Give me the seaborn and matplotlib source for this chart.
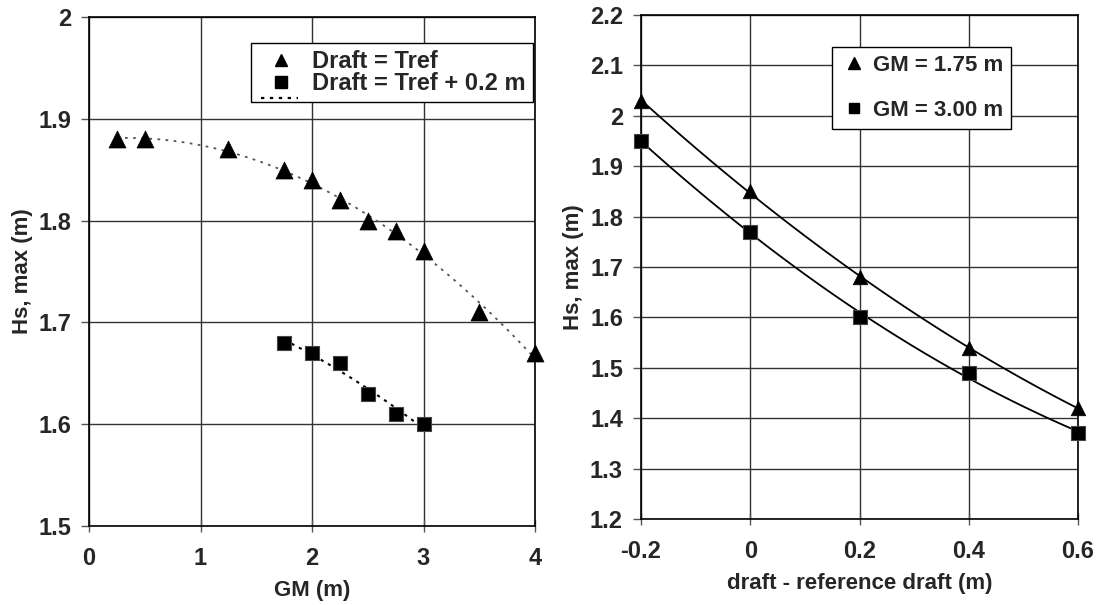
import numpy as np
import pandas as pd
import matplotlib
matplotlib.use("Agg")
import matplotlib.pyplot as plt
import seaborn as sns
from matplotlib.lines import Line2D

# ---------------- data ----------------
gm_tref = [0.25, 0.5, 1.25, 1.75, 2.0, 2.25, 2.5, 2.75, 3.0, 3.5, 4.0]
hs_tref = [1.88, 1.88, 1.87, 1.85, 1.84, 1.82, 1.80, 1.79, 1.77, 1.71, 1.67]
gm_tref02 = [1.75, 2.0, 2.25, 2.5, 2.75, 3.0]
hs_tref02 = [1.68, 1.67, 1.66, 1.63, 1.61, 1.60]

draft = [-0.2, 0.0, 0.2, 0.4, 0.6]
hs_gm175 = [2.03, 1.85, 1.68, 1.54, 1.42]
hs_gm300 = [1.95, 1.77, 1.60, 1.49, 1.37]

left_xticks = [0, 1, 2, 3, 4]
left_xlabels = ["0", "1", "2", "3", "4"]
left_yticks = [1.5, 1.6, 1.7, 1.8, 1.9, 2.0]
left_ylabels = ["1.5", "1.6", "1.7", "1.8", "1.9", "2"]
right_xticks = [-0.2, 0.0, 0.2, 0.4, 0.6]
right_xlabels = ["-0.2", "0", "0.2", "0.4", "0.6"]
right_yticks = [1.2, 1.3, 1.4, 1.5, 1.6, 1.7, 1.8, 1.9, 2.0, 2.1, 2.2]
right_ylabels = ["1.2", "1.3", "1.4", "1.5", "1.6", "1.7", "1.8", "1.9", "2", "2.1", "2.2"]

leg_left = ["Draft = Tref", "Draft = Tref + 0.2 m"]
leg_right = ["GM = 1.75 m", "GM = 3.00 m"]

df_left_a = pd.DataFrame({"GM": gm_tref, "Hs": hs_tref})
df_left_b = pd.DataFrame({"GM": gm_tref02, "Hs": hs_tref02})
df_right_a = pd.DataFrame({"d": draft, "Hs": hs_gm175})
df_right_b = pd.DataFrame({"d": draft, "Hs": hs_gm300})

# ---------------- style ----------------
sns.set_style("white")
plt.rcParams["font.family"] = ["Liberation Sans", "DejaVu Sans"]
plt.rcParams["font.weight"] = "bold"
plt.rcParams["axes.labelweight"] = "bold"

fig = plt.figure(figsize=(10.96, 6.05), dpi=100)
ax1 = fig.add_axes([89 / 1096, 1 - 526 / 605, 446 / 1096, 509 / 605])
ax2 = fig.add_axes([641 / 1096, 1 - 519 / 605, 437 / 1096, 504 / 605])

GRID = "#333333"
TICK_FS = 17
LAB_FS = 16
LEG_FS = 16

def style_axes(ax):
    ax.grid(True, color=GRID, lw=1.0)
    ax.set_axisbelow(True)
    for s in ax.spines.values():
        s.set_color("black")
        s.set_linewidth(1.2)
        s.set_visible(True)
    ax.tick_params(axis="y", direction="out", length=6, width=1, color="#555555",
                   pad=7, labelsize=TICK_FS, left=True)
    ax.tick_params(axis="x", direction="inout", length=8, width=1, color="#555555",
                   pad=11, labelsize=TICK_FS, bottom=True)
    for lab in ax.get_xticklabels() + ax.get_yticklabels():
        lab.set_fontweight("bold")

# ---------------- left panel ----------------
sns.regplot(data=df_left_a, x="GM", y="Hs", order=2, ci=None, scatter=False,
            truncate=True, ax=ax1,
            line_kws=dict(color="#555555", lw=1.3, ls=(0, (1.5, 3))))
sns.regplot(data=df_left_b, x="GM", y="Hs", order=2, ci=None, scatter=False,
            truncate=True, ax=ax1,
            line_kws=dict(color="black", lw=1.5, ls=(0, (1.5, 2.5))))
sns.scatterplot(data=df_left_a, x="GM", y="Hs", marker="^", s=150, color="black",
                edgecolor="black", linewidth=0.5, ax=ax1, zorder=5, clip_on=False)
sns.scatterplot(data=df_left_b, x="GM", y="Hs", marker="s", s=110, color="black",
                edgecolor="#444444", linewidth=0.8, ax=ax1, zorder=5, clip_on=False)

ax1.set_xlim(0, 4)
ax1.set_ylim(1.5, 2.0)
ax1.set_xticks(left_xticks)
ax1.set_xticklabels(left_xlabels)
ax1.set_yticks(left_yticks)
ax1.set_yticklabels(left_ylabels)
ax1.set_xlabel("GM (m)", fontsize=LAB_FS, fontweight="bold", labelpad=7)
ax1.set_ylabel("Hs, max (m)", fontsize=LAB_FS, fontweight="bold", labelpad=4)
style_axes(ax1)

h_left = [
    Line2D([], [], marker="^", ls="none", color="black", ms=9),
    Line2D([], [], marker="s", ls="none", color="black", ms=8),
]
lg1 = ax1.legend(h_left, leg_left, loc="upper left",
                 bbox_to_anchor=(251 / 1096, 1 - 43 / 605),
                 bbox_transform=fig.transFigure,
                 fontsize=LEG_FS + 1, frameon=True, fancybox=False, framealpha=1,
                 edgecolor="black", borderpad=0.3, labelspacing=-0.05,
                 handlelength=1.9, handletextpad=0.4, borderaxespad=0)
lg1.get_frame().set_linewidth(1.0)
for t in lg1.get_texts():
    t.set_fontweight("bold")
# dotted trend-line sample peeking at the bottom edge of the legend box
fig.add_artist(Line2D([261 / 1096, 298 / 1096], [1 - 98 / 605, 1 - 98 / 605],
                      transform=fig.transFigure, color="black", lw=1.6,
                      ls=(0, (1.5, 2.5)), zorder=10))

# ---------------- right panel ----------------
sns.regplot(data=df_right_a, x="d", y="Hs", order=2, ci=None, scatter=False,
            truncate=True, ax=ax2, line_kws=dict(color="black", lw=1.3))
sns.regplot(data=df_right_b, x="d", y="Hs", order=2, ci=None, scatter=False,
            truncate=True, ax=ax2, line_kws=dict(color="black", lw=1.3))
sns.scatterplot(data=df_right_a, x="d", y="Hs", marker="^", s=110, color="black",
                edgecolor="black", linewidth=0.5, ax=ax2, zorder=5, clip_on=False)
sns.scatterplot(data=df_right_b, x="d", y="Hs", marker="s", s=90, color="black",
                edgecolor="#444444", linewidth=0.8, ax=ax2, zorder=5, clip_on=False)

ax2.set_xlim(-0.2, 0.6)
ax2.set_ylim(1.2, 2.2)
ax2.set_xticks(right_xticks)
ax2.set_xticklabels(right_xlabels)
ax2.set_yticks(right_yticks)
ax2.set_yticklabels(right_ylabels)
ax2.set_xlabel("draft - reference draft (m)", fontsize=LAB_FS, fontweight="bold", labelpad=7)
ax2.set_ylabel("Hs, max (m)", fontsize=LAB_FS, fontweight="bold", labelpad=4)
style_axes(ax2)

h_right = [
    Line2D([], [], marker="^", ls="none", color="black", ms=8.5),
    Line2D([], [], marker="s", ls="none", color="black", ms=7.5),
]
lg2 = ax2.legend(h_right, leg_right, loc="upper left",
                 bbox_to_anchor=(832 / 1096, 1 - 47 / 605),
                 bbox_transform=fig.transFigure,
                 fontsize=LEG_FS, frameon=True, fancybox=False, framealpha=1,
                 edgecolor="black", borderpad=0.35, labelspacing=1.1,
                 handlelength=1.3, handletextpad=0.2, borderaxespad=0)
lg2.get_frame().set_linewidth(1.0)
for t in lg2.get_texts():
    t.set_fontweight("bold")

fig.savefig("out.png", dpi=100)
